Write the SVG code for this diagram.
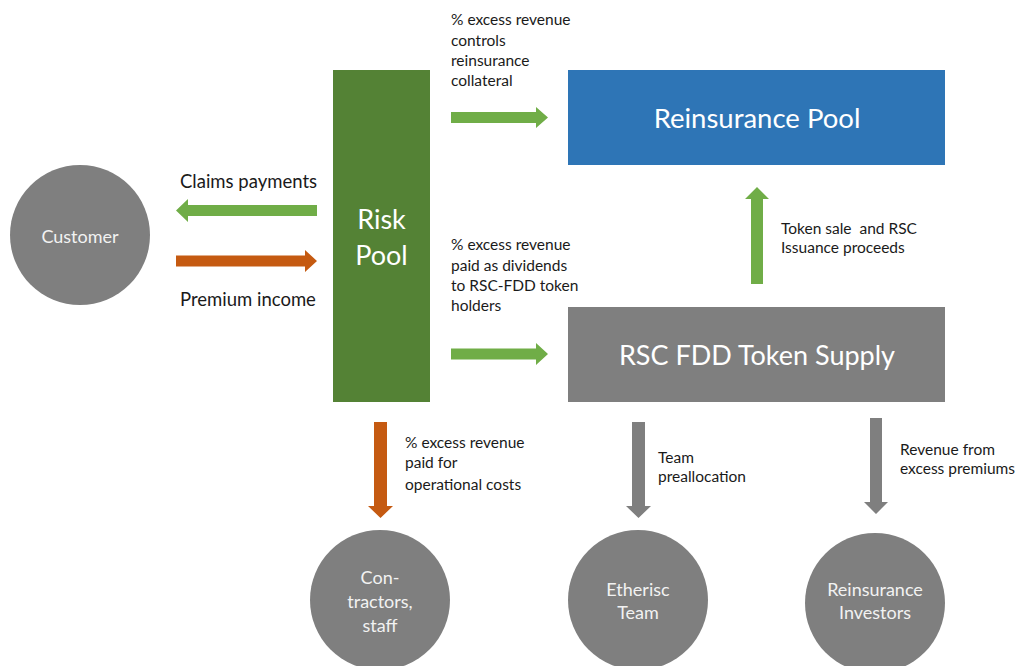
<svg xmlns="http://www.w3.org/2000/svg" width="1016" height="666" viewBox="0 0 1016 666">
<style>
text{font-family:Lato,"Open Sans","Liberation Sans",sans-serif}
.lbl{font-size:15.5px;fill:#1a1a1a}
.lbl2{font-size:18.5px;fill:#1a1a1a}
.ct{font-size:18px;fill:#f2f2f2;text-anchor:middle}
.big{font-size:27px;fill:#ffffff;text-anchor:middle}
.circ{fill:#7f7f7f}
.g{fill:#70ad47}
.o{fill:#c55a11}
.gr{fill:#7f7f7f}
</style>
<rect width="1016" height="666" fill="#ffffff"/>
<g id="customer">
<circle class="circ" cx="80" cy="235" r="70"/>
<text class="ct" x="80" y="243">Customer</text>
</g>
<g id="risk-pool">
<rect x="333" y="70" width="97" height="332" fill="#548235"/>
<text class="big" x="381.5" y="229">Risk</text>
<text class="big" x="381.5" y="265">Pool</text>
</g>
<g id="reinsurance-pool">
<rect x="568" y="70" width="377" height="95" fill="#2e75b6"/>
<text class="big" x="757" y="128" style="font-size:27.5px">Reinsurance Pool</text>
</g>
<g id="token-supply">
<rect x="568" y="307" width="377" height="95" fill="#7f7f7f"/>
<text class="big" x="757" y="365">RSC FDD Token Supply</text>
</g>
<g id="contractors">
<circle class="circ" cx="380" cy="600" r="70"/>
<text class="ct" x="380" y="584">Con-</text>
<text class="ct" x="380" y="608">tractors,</text>
<text class="ct" x="380" y="632">staff</text>
</g>
<g id="etherisc-team">
<circle class="circ" cx="638" cy="600" r="70"/>
<text class="ct" x="638" y="596">Etherisc</text>
<text class="ct" x="638" y="619">Team</text>
</g>
<g id="reinsurance-investors">
<circle class="circ" cx="875" cy="603" r="70"/>
<text class="ct" x="875" y="596">Reinsurance</text>
<text class="ct" x="875" y="619">Investors</text>
</g>
<g id="connectors">
<polygon class="g" points="317,205 188,205 188,199 176,210.5 188,222 188,216 317,216"/>
<polygon class="o" points="176,255.5 305,255.5 305,250 317,261 305,272 305,266.5 176,266.5"/>
<polygon class="g" points="451,112 536,112 536,107 548,117.5 536,128 536,123 451,123"/>
<polygon class="g" points="451,348.5 536,348.5 536,343 548,354 536,365 536,359.5 451,359.5"/>
<polygon class="g" points="751,284 751,199 745,199 757,187 769,199 763,199 763,284"/>
<polygon class="o" points="374,422 374,506 368,506 380.5,518 393,506 387,506 387,422"/>
<polygon class="gr" points="632,422 632,506 626,506 638.5,518 651,506 645,506 645,422"/>
<polygon class="gr" points="870,418 870,502 864,502 876,514 888,502 882,502 882,418"/>
</g>
<g id="labels">
<text class="lbl" x="451" y="25">% excess revenue</text>
<text class="lbl" x="451" y="46">controls</text>
<text class="lbl" x="451" y="66">reinsurance</text>
<text class="lbl" x="451" y="86">collateral</text>
<text class="lbl2" x="180" y="188">Claims payments</text>
<text class="lbl2" x="180" y="306">Premium income</text>
<text class="lbl" x="451" y="250">% excess revenue</text>
<text class="lbl" x="451" y="271">paid as dividends</text>
<text class="lbl" x="451" y="291">to RSC-FDD token</text>
<text class="lbl" x="451" y="311">holders</text>
<text class="lbl" x="781" y="234" xml:space="preserve">Token sale  and RSC</text>
<text class="lbl" x="781" y="253">Issuance proceeds</text>
<text class="lbl" x="405" y="448">% excess revenue</text>
<text class="lbl" x="405" y="468">paid for</text>
<text class="lbl" x="405" y="490">operational costs</text>
<text class="lbl" x="658" y="463">Team</text>
<text class="lbl" x="658" y="482">preallocation</text>
<text class="lbl" x="900" y="455">Revenue from</text>
<text class="lbl" x="900" y="474">excess premiums</text>
</g>
</svg>
